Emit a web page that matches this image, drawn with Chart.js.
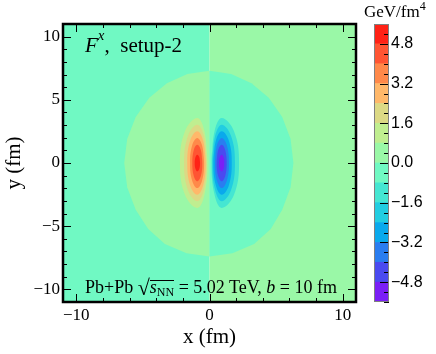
<!DOCTYPE html>
<html>
<head>
<meta charset="utf-8">
<script src="https://cdn.jsdelivr.net/npm/chart.js@4.4.1/dist/chart.umd.min.js"></script>
<style>
  body { margin: 0; background: #fff; }
  #wrap { position: relative; width: 436px; height: 354px; font-family: "Liberation Serif", serif; color: #000; }
  canvas { position: absolute; left: 0; top: 0; }
  .txt { position: absolute; white-space: nowrap; line-height: 1; }
  .ov { border-top: 1px solid #000; display: inline-block; line-height: 13px; }
</style>
</head>
<body>
<div id="wrap">
  <canvas id="map" width="436" height="354"></canvas>
  <canvas id="bar" width="436" height="354"></canvas>
  <div class="txt" style="left:85px; top:35px; font-size:21px;"><i>F</i><span style="position:relative; top:-12px; font-size:15px;"><i>x</i></span>,&nbsp;&nbsp;setup-2</div>
  <div class="txt" style="left:85px; top:275px; font-size:18px;">Pb+Pb <span style="font-size:22px; position:relative; top:2px;">&#8730;</span><span class="ov"><i>s</i><span style="position:relative; top:3px; font-size:12px;">NN</span></span> = 5.02 TeV, <i>b</i> = 10 fm</div>
  <div class="txt" style="left:364px; top:3px; font-size:17px;">GeV/fm<span style="position:relative; top:-7px; font-size:12px;">4</span></div>
</div>
<script>
// colour scale of the map (band edges in GeV/fm^4)
const bandEdges = [-5.6, -4.8, -4.0, -3.2, -2.4, -1.6, -0.8, 0.0, 0.8, 1.6, 2.4, 3.2, 4.0, 4.8, 5.6];
const bandColors = ['#7a1ff6', '#4a4af0', '#2a7df0', '#0aa9ec', '#22cde1', '#45e6d2', '#70f9c3',
                    '#9af8a7', '#c0ee90', '#dcd985', '#ffb86a', '#ff894a', '#ff5533', '#ff2216'];
const xTickLabels = [-10, 0, 10];
const yTickLabels = [-10, -5, 0, 5, 10];
const barTickLabels = [-4.8, -3.2, -1.6, 0, 1.6, 3.2, 4.8];

// filled regions (bottom to top): field value and outline in fm
const regionValues = [-0.4, 0.4, 0.4, -0.4, 1.2, 2.0, 2.8, 3.6, 4.4, 5.2, -1.2, -2.0, -2.8, -3.6, -4.4, -5.2];
const regionX = [
  [-11, -11, 0, 0],
  [0, 0, 11, 11],
  [0, -1.66, -3.2, -4.52, -5.54, -6.18, -6.4, -6.18, -5.54, -4.6, -3.35, -1.72, 0],
  [0, 1.63, 3.15, 4.45, 5.46, 6.09, 6.3, 6.09, 5.46, 4.6, 3.35, 1.72, 0],
  [-0.15, -0.38, -0.92, -1.84, -2.22, -1.84, -0.92, -0.38],
  [-0.21, -0.42, -0.92, -1.62, -1.91, -1.62, -0.92, -0.42],
  [-0.29, -0.48, -0.92, -1.45, -1.67, -1.45, -0.92, -0.48],
  [-0.41, -0.56, -0.92, -1.30, -1.46, -1.30, -0.92, -0.56],
  [-0.54, -0.65, -0.92, -1.18, -1.29, -1.18, -0.92, -0.65],
  [-0.71, -0.77, -0.92, -1.05, -1.11, -1.05, -0.92, -0.77],
  [0.15, 0.38, 0.92, 1.84, 2.22, 1.84, 0.92, 0.38],
  [0.21, 0.42, 0.92, 1.62, 1.91, 1.62, 0.92, 0.42],
  [0.29, 0.48, 0.92, 1.45, 1.67, 1.45, 0.92, 0.48],
  [0.41, 0.56, 0.92, 1.30, 1.46, 1.30, 0.92, 0.56],
  [0.54, 0.65, 0.92, 1.18, 1.29, 1.18, 0.92, 0.65],
  [0.71, 0.77, 0.92, 1.05, 1.11, 1.05, 0.92, 0.77]
];
const regionY = [
  [-11, 11, 11, -11],
  [-11, 11, 11, -11],
  [7.3, 7.05, 6.32, 5.16, 3.65, 1.89, 0, -1.92, -3.7, -5.23, -6.41, -7.15, -7.4],
  [7.3, 7.05, 6.32, 5.16, 3.65, 1.89, 0, -1.92, -3.7, -5.23, -6.41, -7.15, -7.4],
  [0, 2.52, 3.56, 2.52, 0, -2.52, -3.56, -2.52],
  [0, 2.14, 3.03, 2.14, 0, -2.14, -3.03, -2.14],
  [0, 1.78, 2.51, 1.78, 0, -1.78, -2.51, -1.78],
  [0, 1.40, 1.98, 1.40, 0, -1.40, -1.98, -1.40],
  [0, 1.03, 1.45, 1.03, 0, -1.03, -1.45, -1.03],
  [0, 0.47, 0.66, 0.47, 0, -0.47, -0.66, -0.47],
  [0, 2.52, 3.56, 2.52, 0, -2.52, -3.56, -2.52],
  [0, 2.14, 3.03, 2.14, 0, -2.14, -3.03, -2.14],
  [0, 1.78, 2.51, 1.78, 0, -1.78, -2.51, -1.78],
  [0, 1.40, 1.98, 1.40, 0, -1.40, -1.98, -1.40],
  [0, 1.03, 1.45, 1.03, 0, -1.03, -1.45, -1.03],
  [0, 0.47, 0.66, 0.47, 0, -0.47, -0.66, -0.47]
];

const serif = '"Liberation Serif", serif';
const sans = '"Liberation Sans", sans-serif';

function colorFor(v) {
  for (let i = 0; i < bandColors.length; i++) {
    if (v >= bandEdges[i] && v < bandEdges[i + 1]) return bandColors[i];
  }
  return bandColors[bandColors.length - 1];
}
function minus(v, d) {
  const s = d ? Math.abs(v).toFixed(d) : String(Math.abs(v));
  return (v < 0 ? '\u2212' : '') + s;
}

var mapSets = regionValues.map(function (v, i) {
  var pts = regionX[i].map(function (x, j) { return { x: x, y: regionY[i][j] }; });
  var smooth = pts.length === 8;
  if (smooth) pts = pts.concat(pts.slice(0, 2)); // wrap so the curve closes smoothly
  return {
    data: pts,
    showLine: true,
    fill: 'shape',
    backgroundColor: colorFor(v),
    borderColor: 'rgba(0,0,0,0)',
    borderWidth: 0,
    pointRadius: 0,
    pointHoverRadius: 0,
    tension: smooth ? 0.4 : 0,
    order: regionValues.length - i
  };
});

// ticks pointing inwards + thick frame
const frameTicks = {
  id: 'frameTicks',
  afterDatasetsDraw(chart) {
    const ctx = chart.ctx, a = chart.chartArea, x = chart.scales.x, y = chart.scales.y;
    ctx.save();
    ctx.strokeStyle = '#000';
    ctx.lineWidth = 1;
    ctx.beginPath();
    x.ticks.forEach(function (t) {
      if (t.value % 2 !== 0) return; // x ticks every 2 fm
      const px = Math.round(x.getPixelForValue(t.value)) + 0.5;
      const len = xTickLabels.includes(t.value) ? 8 : 4;
      ctx.moveTo(px, a.bottom); ctx.lineTo(px, a.bottom - len);
      ctx.moveTo(px, a.top); ctx.lineTo(px, a.top + len);
    });
    y.ticks.forEach(function (t) {
      if (Math.abs(t.value) > 10) return;
      const py = Math.round(y.getPixelForValue(t.value)) + 0.5;
      const len = yTickLabels.includes(t.value) ? 8 : 4;
      ctx.moveTo(a.left, py); ctx.lineTo(a.left + len, py);
      ctx.moveTo(a.right, py); ctx.lineTo(a.right - len, py);
    });
    ctx.stroke();
    ctx.lineWidth = 2.5;
    ctx.strokeRect(a.left, a.top, a.right - a.left, a.bottom - a.top);
    ctx.restore();
  }
};

new Chart(document.getElementById('map'), {
  type: 'scatter',
  data: { datasets: mapSets },
  options: {
    responsive: false,
    animation: false,
    events: [],
    layout: { padding: { left: 0, right: 80, top: 24, bottom: 0 } },
    plugins: { legend: { display: false }, tooltip: { enabled: false } },
    scales: {
      x: {
        type: 'linear', min: -11, max: 11,
        afterFit: function (s) { s.height = 52; },
        grid: { display: false, drawTicks: false },
        border: { display: false },
        ticks: {
          stepSize: 1, autoSkip: false, maxRotation: 0, padding: 3,
          color: '#000', font: { family: serif, size: 17 },
          callback: function (v) { return xTickLabels.includes(v) ? minus(v) : ''; }
        },
        title: { display: true, text: 'x (fm)', color: '#000', font: { family: serif, size: 21 }, padding: { top: 0, bottom: 4 } }
      },
      y: {
        type: 'linear', min: -11, max: 11,
        afterFit: function (s) { s.width = 63; },
        grid: { display: false, drawTicks: false },
        border: { display: false },
        ticks: {
          stepSize: 1, autoSkip: false, padding: 3,
          color: '#000', font: { family: serif, size: 17 },
          callback: function (v) { return yTickLabels.includes(v) ? minus(v) : ''; }
        },
        title: { display: true, text: 'y (fm)', color: '#000', font: { family: serif, size: 21 }, padding: { top: 2, bottom: 0 } }
      }
    }
  },
  plugins: [frameTicks]
});

// colour bar
var barSets = bandColors.map(function (c, i) {
  return {
    data: [[bandEdges[i], bandEdges[i + 1]]],
    backgroundColor: c,
    borderWidth: 0,
    barPercentage: 1,
    categoryPercentage: 1,
    grouped: false
  };
});

const barTicks = {
  id: 'barTicks',
  afterDatasetsDraw(chart) {
    const ctx = chart.ctx, a = chart.chartArea, y = chart.scales.y;
    ctx.save();
    ctx.strokeStyle = '#000';
    ctx.lineWidth = 1;
    ctx.beginPath();
    y.ticks.forEach(function (t) {
      const v = Math.round(t.value * 10) / 10;
      const py = Math.round(y.getPixelForValue(t.value)) + 0.5;
      const len = barTickLabels.includes(v) ? 9 : 5;
      ctx.moveTo(a.right, py); ctx.lineTo(a.right - len, py);
    });
    ctx.stroke();
    ctx.strokeStyle = '#808080';
    ctx.strokeRect(a.left + 0.5, a.top + 0.5, a.right - a.left - 1, a.bottom - a.top - 1);
    ctx.restore();
  }
};

new Chart(document.getElementById('bar'), {
  type: 'bar',
  data: { labels: ['F'], datasets: barSets },
  options: {
    responsive: false,
    animation: false,
    events: [],
    layout: { padding: { left: 374, right: 0, top: 24, bottom: 52 } },
    plugins: { legend: { display: false }, tooltip: { enabled: false } },
    scales: {
      x: { display: false },
      y: {
        position: 'right', min: -5.6, max: 5.6,
        afterFit: function (s) { s.width = 47; },
        grid: { display: false, drawTicks: false },
        border: { display: false },
        ticks: {
          stepSize: 0.4, autoSkip: false, padding: 2,
          color: '#000', font: { family: sans, size: 16 },
          callback: function (v) {
            const r = Math.round(v * 10) / 10;
            return barTickLabels.includes(r) ? minus(r, 1) : '';
          }
        }
      }
    }
  },
  plugins: [barTicks]
});
</script>
</body>
</html>
